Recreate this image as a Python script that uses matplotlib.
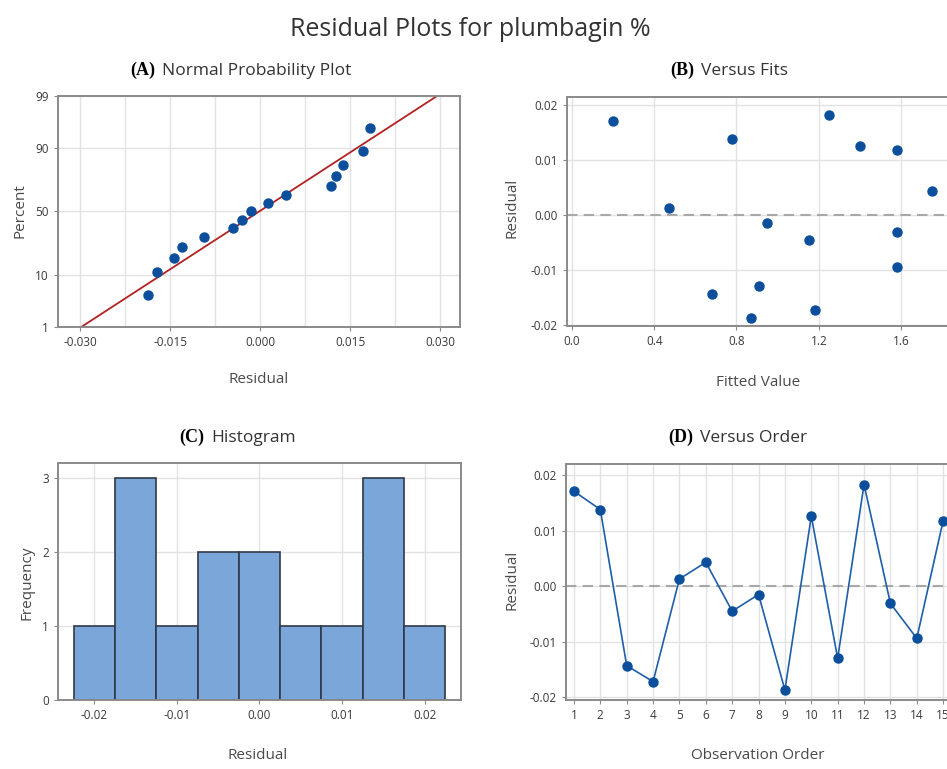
import math
import numpy as np
import matplotlib
matplotlib.use("Agg")
import matplotlib.pyplot as plt
from matplotlib.offsetbox import TextArea, HPacker, AnchoredOffsetbox

# residuals in observation order, and the matching fitted values
order = list(range(1, 16))
resid = [0.0171, 0.0138, -0.0143, -0.0172, 0.0013, 0.0043, -0.0045, -0.0015,
         -0.0187, 0.0126, -0.0130, 0.0183, -0.0031, -0.0094, 0.0118]
fits = [0.20, 0.78, 0.68, 1.18, 0.47, 1.75, 1.15, 0.95,
        0.87, 1.40, 0.91, 1.25, 1.58, 1.58, 1.58]

pct_ticks = [1, 10, 50, 90, 99]
hist_centers = [-0.02, -0.015, -0.01, -0.005, 0.0, 0.005, 0.01, 0.015, 0.02]

plt.rcParams['font.family'] = ['Open Sans', 'DejaVu Sans']

DOT = '#0b4f9c'
FRAME = '#8a8a8a'
GRID = '#e2e2e2'
TXT = '#3a3a3a'


def norm_ppf(p):
    p = np.atleast_1d(np.asarray(p, float))
    lo = np.full_like(p, -10.0)
    hi = np.full_like(p, 10.0)
    erf = np.vectorize(math.erf)
    for _ in range(70):
        mid = (lo + hi) / 2
        cdf = 0.5 * (1 + erf(mid / math.sqrt(2)))
        lo = np.where(cdf < p, mid, lo)
        hi = np.where(cdf < p, hi, mid)
    return (lo + hi) / 2


def style(ax):
    for s in ax.spines.values():
        s.set_color(FRAME)
        s.set_linewidth(1.4)
    ax.tick_params(colors=FRAME, labelcolor=TXT, labelsize=8.5, length=3)
    ax.grid(True, color=GRID, lw=1)
    ax.set_axisbelow(True)


def panel_title(fig, x, y, tag, text):
    a = TextArea(tag, textprops=dict(family='Liberation Serif', weight='bold', size=13, color='black'))
    b = TextArea(text, textprops=dict(size=12.5, color='#333333'))
    box = HPacker(children=[a, b], align='baseline', pad=0, sep=5)
    anch = AnchoredOffsetbox(loc='center', child=box, pad=0, borderpad=0, frameon=False,
                             bbox_to_anchor=(x / 947, 1 - y / 769), bbox_transform=fig.transFigure)
    fig.add_artist(anch)


def labels(ax, xl, yl, xpos, ypos):
    ax.set_xlabel(xl, fontsize=11, color='#4a4a4a', va='center')
    ax.set_ylabel(yl, fontsize=11, color='#4a4a4a', va='center')
    ax.xaxis.set_label_coords(*xpos)
    ax.yaxis.set_label_coords(*ypos)


fig = plt.figure(figsize=(9.47, 7.69), dpi=100)
fig.text(470 / 947, 1 - 30 / 769, 'Residual Plots for plumbagin %', ha='center', va='center',
         fontsize=18, color='#333333')

# (A) normal probability plot
axA = fig.add_axes([0.0612, 0.5748, 0.4245, 0.3004])
style(axA)
r_sorted = np.sort(resid)
n = len(r_sorted)
probs = (np.arange(1, n + 1) - 0.3) / (n + 0.4)
mu = np.mean(resid)
sd = np.std(resid, ddof=1)
z_line = norm_ppf([0.01, 0.99])
axA.plot(mu + sd * z_line, z_line, color='#b22222', lw=1.3)
axA.plot(r_sorted, norm_ppf(probs), 'o', color=DOT, ms=6.5)
axA.set_yticks(norm_ppf(np.array(pct_ticks) / 100))
axA.set_yticklabels([str(t) for t in pct_ticks])
axA.set_ylim(z_line[0], z_line[1])
axA.set_xlim(-0.0337, 0.0333)
axA.set_xticks([-0.030, -0.015, 0.0, 0.015, 0.030])
axA.set_xticklabels(['-0.030', '-0.015', '0.000', '0.015', '0.030'])
axA.set_xticks([-0.0225, -0.0075, 0.0075, 0.0225], minor=True)
axA.tick_params(which='minor', length=0)
axA.grid(True, which='minor', axis='x', color=GRID, lw=1)
labels(axA, 'Residual', 'Percent', (0.5, -0.229), (-0.095, 0.506))
panel_title(fig, 241, 70, '(A)', 'Normal Probability Plot')

# (B) versus fits
axB = fig.add_axes([0.5987, 0.5761, 0.418, 0.2978])
style(axB)
axB.axhline(0, color='#a8a8a8', lw=1.5, ls=(0, (5, 3)))
axB.plot(fits, resid, 'o', color=DOT, ms=6.5)
axB.set_xlim(-0.024, 1.9)
axB.set_ylim(-0.0202, 0.0215)
axB.set_xticks([0.0, 0.4, 0.8, 1.2, 1.6])
axB.set_yticks([-0.02, -0.01, 0.0, 0.01, 0.02])
axB.set_yticklabels(['-0.02', '-0.01', '0.00', '0.01', '0.02'])
labels(axB, 'Fitted Value', 'Residual', (0.482, -0.245), (-0.139, 0.515))
panel_title(fig, 729, 70, '(B)', 'Versus Fits')

# (C) histogram
axC = fig.add_axes([0.0612, 0.0897, 0.4256, 0.3082])
style(axC)
edges = np.append(np.array(hist_centers) - 0.0025, hist_centers[-1] + 0.0025)
axC.hist(resid, bins=edges, color='#7ba6da', edgecolor='#2f3a48', lw=1.2)
axC.set_xlim(-0.0244, 0.0244)
axC.set_ylim(0, 3.2)
axC.set_yticks([0, 1, 2, 3])
axC.set_xticks([-0.02, -0.01, 0.0, 0.01, 0.02])
axC.set_xticklabels(['-0.02', '-0.01', '0.00', '0.01', '0.02'])
labels(axC, 'Residual', 'Frequency', (0.496, -0.232), (-0.077, 0.494))
panel_title(fig, 238, 437, '(C)', 'Histogram')

# (D) versus order
axD = fig.add_axes([0.5977, 0.0897, 0.4066, 0.3069])
style(axD)
axD.axhline(0, color='#a8a8a8', lw=1.5, ls=(0, (5, 3)))
axD.plot(order, resid, '-o', color='#1f5ea8', lw=1.2, mfc=DOT, mec=DOT, ms=6.5)
axD.set_xlim(0.7, 15.3)
axD.set_ylim(-0.0205, 0.022)
axD.set_xticks(order)
axD.set_yticks([-0.02, -0.01, 0.0, 0.01, 0.02])
axD.set_yticklabels(['-0.02', '-0.01', '0.00', '0.01', '0.02'])
labels(axD, 'Observation Order', 'Residual', (0.499, -0.233), (-0.140, 0.508))
panel_title(fig, 738, 437, '(D)', 'Versus Order')

fig.savefig('out.png', dpi=100)
